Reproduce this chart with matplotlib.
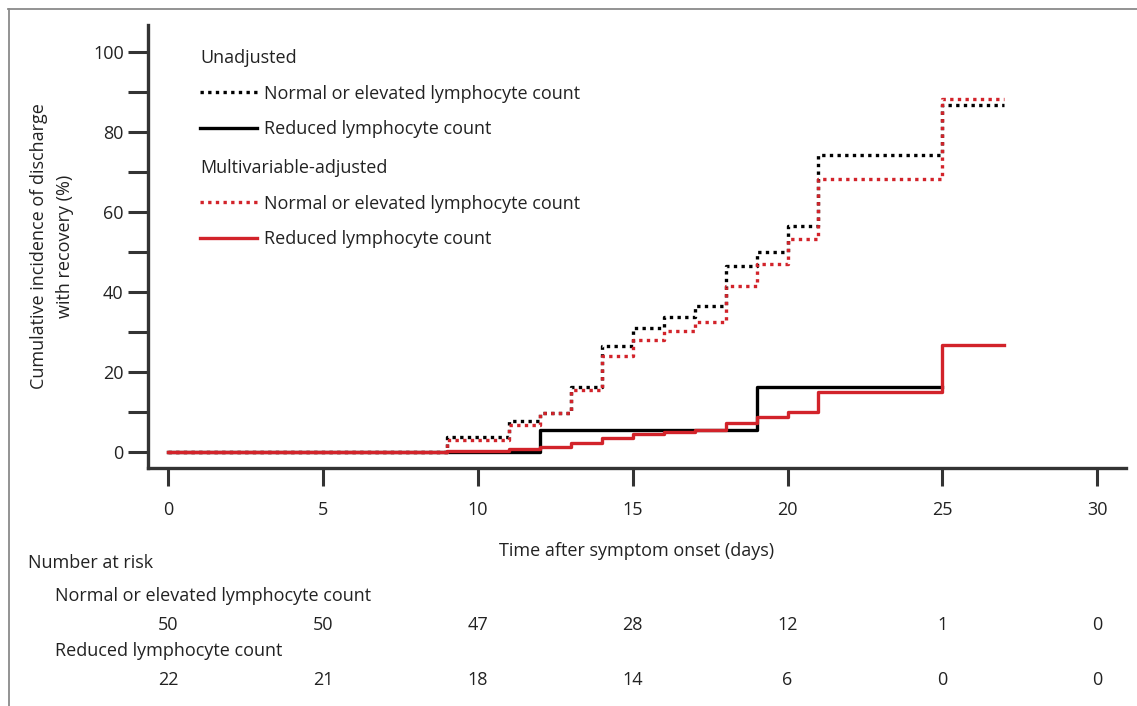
import numpy as np
import matplotlib
matplotlib.use("Agg")
import matplotlib.pyplot as plt
from matplotlib.lines import Line2D

plt.rcParams['font.family'] = ['Open Sans', 'DejaVu Sans']

# step times (days) and cumulative incidence (%)
days = [0, 9, 11, 12, 13, 14, 15, 16, 17, 18, 19, 20, 21, 25, 27]
unadj_normal = [0, 3.8, 7.8, 9.8, 16.2, 26.5, 31.0, 33.8, 36.5, 46.6, 50.0, 56.6, 74.3, 86.9, 86.9]
unadj_reduced = [0, 0, 0, 5.5, 5.5, 5.5, 5.5, 5.5, 5.5, 5.5, 16.2, 16.2, 16.2, 16.2, 16.2]
adj_normal = [0, 3.0, 6.8, 9.7, 15.5, 24.0, 28.1, 30.2, 32.6, 41.5, 47.0, 53.3, 68.3, 88.4, 88.4]
adj_reduced = [0, 0.25, 0.7, 1.3, 2.2, 3.6, 4.5, 4.9, 5.5, 7.2, 8.7, 10.1, 14.9, 26.7, 26.7]

risk_days = [0, 5, 10, 15, 20, 25, 30]
risk_normal = [50, 50, 47, 28, 12, 1, 0]
risk_reduced = [22, 21, 18, 14, 6, 0, 0]

lbl_normal = "Normal or elevated lymphocyte count"
lbl_reduced = "Reduced lymphocyte count"

RED = "#d2232a"
AX = "#333333"
TXT = "#222222"
FS = 13
dots = (0, (1, 1.3))

fig = plt.figure(figsize=(11.37, 7.06), dpi=100)
ax = fig.add_axes([148/1137, 1-468/706, (1126-148)/1137, (468-25)/706])

ax.step(days, unadj_normal, where="post", color="black", lw=2.4, ls=dots)
ax.step(days[:-1], unadj_reduced[:-1], where="post", color="black", lw=2.4)
ax.step(days, adj_normal, where="post", color=RED, lw=2.4, ls=dots)
ax.step(days, adj_reduced, where="post", color=RED, lw=2.4)

ax.set_xlim(-0.65, 30.93)
ax.set_ylim(-4, 106.8)
ax.set_xticks([0, 5, 10, 15, 20, 25, 30])
ax.set_yticks([0, 20, 40, 60, 80, 100])
ax.set_yticks([10, 30, 50, 70, 90], minor=True)
for s in ["top", "right"]:
    ax.spines[s].set_visible(False)
for s in ["left", "bottom"]:
    ax.spines[s].set_linewidth(2.4)
    ax.spines[s].set_color(AX)
ax.tick_params(axis="both", which="both", width=2.2, color=AX, labelsize=FS, labelcolor=TXT)
ax.tick_params(axis="y", which="both", length=14.5, pad=3)
ax.tick_params(axis="x", length=13, pad=11)

ax.set_xlabel("Time after symptom onset (days)", fontsize=FS, color=TXT, labelpad=16)
ax.set_ylabel("Cumulative incidence of discharge\nwith recovery (%)", fontsize=FS,
              color=TXT, labelpad=14, linespacing=1.5)

# legends
h1 = [Line2D([], [], color="black", lw=2.4, ls=dots), Line2D([], [], color="black", lw=2.4)]
h2 = [Line2D([], [], color=RED, lw=2.4, ls=dots), Line2D([], [], color=RED, lw=2.4)]
kw = dict(frameon=False, fontsize=FS, title_fontsize=FS, alignment="left",
          handlelength=3.15, handletextpad=0.4, labelspacing=0.97, borderaxespad=0,
          borderpad=0, labelcolor=TXT)
leg1 = ax.legend(h1, [lbl_normal, lbl_reduced], title="Unadjusted",
                 loc="upper left", bbox_to_anchor=(52/978, 1-24/443), **kw)
leg1.get_title().set_color(TXT)
ax.add_artist(leg1)
leg2 = ax.legend(h2, [lbl_normal, lbl_reduced], title="Multivariable-adjusted",
                 loc="upper left", bbox_to_anchor=(52/978, 1-134/443), **kw)
leg2.get_title().set_color(TXT)

# number at risk table
tr = ax.get_xaxis_transform()
fig.text(28/1137, 1-563/706, "Number at risk", fontsize=FS, color=TXT, va="center")
fig.text(55/1137, 1-596/706, lbl_normal, fontsize=FS, color=TXT, va="center")
fig.text(55/1137, 1-651/706, lbl_reduced, fontsize=FS, color=TXT, va="center")
for d, n1, n2 in zip(risk_days, risk_normal, risk_reduced):
    ax.text(d, (468-625)/443, str(n1), transform=tr, ha="center", va="center",
            fontsize=FS, color=TXT, clip_on=False)
    ax.text(d, (468-680)/443, str(n2), transform=tr, ha="center", va="center",
            fontsize=FS, color=TXT, clip_on=False)

# outer frame (top and left)
fig.add_artist(Line2D([8/1137, 1], [1-9/706, 1-9/706], transform=fig.transFigure,
                      color="#8a8a8a", lw=1.3))
fig.add_artist(Line2D([9/1137, 9/1137], [0, 1-9/706], transform=fig.transFigure,
                      color="#8a8a8a", lw=1.3))

fig.savefig("out.png", dpi=100)
